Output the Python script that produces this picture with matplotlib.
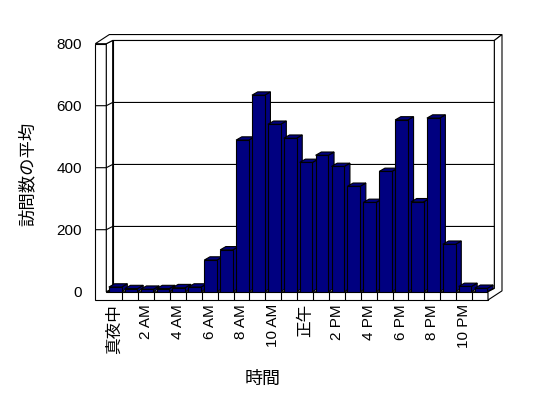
import numpy as np
import matplotlib
matplotlib.use("Agg")
import matplotlib.pyplot as plt
from matplotlib.patches import Polygon

plt.rcParams["font.family"] = ["Liberation Sans", "Noto Sans CJK JP"]

# ── data ──────────────────────────────────────────────────────────────────────
HOURS = list(range(24))
VISITS = [15, 10, 8, 10, 13, 15, 102, 135, 489, 634, 540, 495,
          417, 440, 404, 340, 288, 388, 554, 290, 560, 153, 17, 11]
TICK_POS = list(range(0, 24, 2))
TICK_LABELS = ["真夜中", "2 AM", "4 AM", "6 AM", "8 AM", "10 AM",
               "正午", "2 PM", "4 PM", "6 PM", "8 PM", "10 PM"]
Y_TICKS = [0, 200, 400, 600, 800]

# ── style ─────────────────────────────────────────────────────────────────────
BAR_COLOR = "#000080"
LW = 0.8
YMAX = 800
BAR_W = 0.8
BAR_SHIFT = 0.06
BAR_DEPTH = (0.36, 10.6)    # top / side face offset of the bars
WALL_DEPTH = (0.40, 10.5)   # front plane -> back wall
WALL_THICK = (0.48, 19.0)   # thickness of back wall slab
SIDE_THICK = 0.69           # thickness of left wall slab
FLOOR_THICK = 26.8


def poly(ax, pts, fc="white", z=1):
    ax.add_patch(Polygon(pts, closed=True, facecolor=fc, edgecolor="black",
                         linewidth=LW, zorder=z, clip_on=False))


def line(ax, xs, ys, z=1.5):
    ax.plot(xs, ys, color="black", linewidth=LW, zorder=z, clip_on=False,
            solid_capstyle="butt")


def main():
    fig = plt.figure(figsize=(5.48, 3.98), dpi=100)
    ax = fig.add_axes([106.3 / 548, (398 - 291.7) / 398, 381.7 / 548, 248 / 398])
    ax.set_xlim(-0.5, len(HOURS) - 0.5)
    ax.set_ylim(0, YMAX)
    ax.patch.set_visible(False)
    for s in ax.spines.values():
        s.set_visible(False)

    x0, x1 = -0.5, len(HOURS) - 0.5
    dx, dy = WALL_DEPTH
    tx, ty = WALL_THICK
    sw = SIDE_THICK
    F = FLOOR_THICK

    # front faces of left wall + floor (L shape)
    poly(ax, [(x0 - sw, -F), (x1, -F), (x1, 0), (x0, 0), (x0, YMAX), (x0 - sw, YMAX)])
    # floor top
    poly(ax, [(x0, 0), (x1, 0), (x1 + dx, dy), (x0 + dx, dy)])
    # left wall inner face
    poly(ax, [(x0, 0), (x0, YMAX), (x0 + dx, YMAX + dy), (x0 + dx, dy)])
    # back wall inner face
    poly(ax, [(x0 + dx, dy), (x1 + dx, dy), (x1 + dx, YMAX + dy), (x0 + dx, YMAX + dy)])
    # top of the walls
    poly(ax, [(x0 - sw, YMAX), (x0 - sw + dx + tx, YMAX + dy + ty),
              (x1 + dx + tx, YMAX + dy + ty), (x1 + dx, YMAX + dy),
              (x0 + dx, YMAX + dy), (x0, YMAX)])
    # right side of back wall + floor
    poly(ax, [(x1, -F), (x1, 0), (x1 + dx, dy), (x1 + dx, YMAX + dy),
              (x1 + dx + tx, YMAX + dy + ty), (x1 + dx + tx, dy + ty - F)])

    # category ticks on the floor front
    for k in range(1, len(HOURS)):
        line(ax, [k - 0.5, k - 0.5], [-F, 0])

    # gridlines wrapping the walls
    for v in Y_TICKS[1:-1]:
        line(ax, [x0 - sw, x0, x0 + dx, x1 + dx], [v, v, v + dy, v + dy])

    # bars
    bx, by = BAR_DEPTH
    lefts = np.array(HOURS) + BAR_SHIFT - BAR_W / 2
    for i, (l, v) in enumerate(zip(lefts, VISITS)):
        z = 3 + i * 0.01
        r = l + BAR_W
        poly(ax, [(r, 0), (r, v), (r + bx, v + by), (r + bx, by)], fc=BAR_COLOR, z=z)
        poly(ax, [(l, v), (r, v), (r + bx, v + by), (l + bx, v + by)], fc=BAR_COLOR, z=z)
        ax.bar(l, v, width=BAR_W, align="edge", color=BAR_COLOR,
               edgecolor="black", linewidth=LW, zorder=z + 0.001)

    # axes text
    ax.set_yticks(Y_TICKS)
    ax.tick_params(axis="y", length=0, pad=17.5, labelsize=11)
    ax.set_xticks(TICK_POS)
    ax.set_xticklabels(TICK_LABELS, rotation=90)
    ax.tick_params(axis="x", length=0, pad=9, labelsize=11)
    for lbl in ax.get_xticklabels():
        if not lbl.get_text().isascii():
            lbl.set_fontsize(12)

    ax.set_xlabel("時間", fontsize=13)
    ax.xaxis.label.set_verticalalignment("center")
    ax.xaxis.set_label_coords(0.41, -0.352)
    ax.set_ylabel("訪問数の平均", fontsize=12.5)
    ax.yaxis.label.set_verticalalignment("center")
    ax.yaxis.set_label_coords(-0.206, 0.475)

    fig.savefig("out.png", dpi=100, facecolor="white")


if __name__ == "__main__":
    main()
